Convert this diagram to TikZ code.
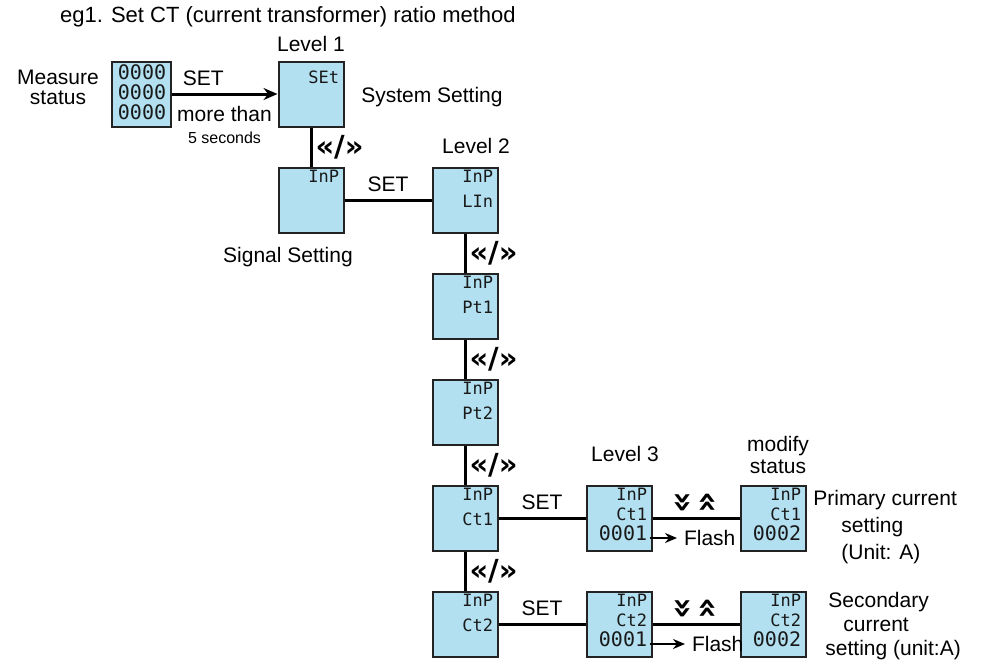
\documentclass[tikz,border=0pt]{standalone}
\usepackage{fontspec}
\setmainfont{Liberation Sans}
\newfontfamily\lcdfont{DejaVu Sans Mono}
\newfontfamily\chevfont{DejaVu Sans}
\usepackage{tikz}
\usetikzlibrary{arrows,arrows.meta}
\usetikzlibrary{positioning}
\definecolor{lcdblue}{RGB}{178,224,240}
\definecolor{lcdframe}{RGB}{35,35,35}
\definecolor{lcdtext}{RGB}{25,25,25}
\tikzstyle{panel} = [draw=lcdframe, fill=lcdblue, line width=1pt, minimum width=32.5pt, minimum height=32.5pt, inner sep=0pt]
\tikzstyle{readout} = [anchor=north east, align=right, inner xsep=2.5pt, inner ysep=1.5pt, text=lcdtext, font=\lcdfont\fontsize{8.5}{12.5}\selectfont]
\tikzstyle{readout3} = [readout, font=\lcdfont\fontsize{8.5}{10}\selectfont]
\tikzstyle{chevrons} = [font=\chevfont\bfseries\fontsize{14.5}{14.5}\selectfont, inner sep=1.5pt]
\tikzstyle{updown} = [font=\chevfont\bfseries\fontsize{17}{17}\selectfont, inner sep=1.5pt]
\tikzstyle{link} = [-, draw=black, line width=1.5pt]
\tikzstyle{arrow_set} = [-{Stealth[length=7pt,width=6pt]}, draw=black, line width=1.5pt]
\tikzstyle{arrow_flash} = [-{Stealth[length=6pt,width=5pt]}, draw=black, line width=1.2pt]

\begin{document}
\begin{tikzpicture}[x=0.5pt, y=-0.5pt, node distance=53pt, font=\fontsize{10.5}{12.5}\selectfont]
  \useasboundingbox (0,0) rectangle (989,664);
  \node[anchor=west, font=\fontsize{11}{13}\selectfont] (title) at (53,17) {eg1. Set CT (current transformer) ratio method};

  % Level 1
  \node[panel, minimum width=29.5pt, label={[readout, inner ysep=2pt, font=\lcdfont\fontsize{10}{10}\selectfont]north east:{0000\\0000\\0000}}] (measure) at (141,94) {};
  \node[align=center, font=\fontsize{10.5}{10}\selectfont] (measure_txt) at (58,87) {Measure\\status};
  \node[panel, label={[readout, inner ysep=5pt]north east:SEt}] (sys) at (311,94) {};
  \node (lv1) at (311,44) {Level 1};
  \node (sys_txt) at (432,97) {System Setting};
  \path[arrow_set] (measure) -- node[above, pos=0.3] {SET}
    node[below=2pt, align=center, font=\fontsize{10.5}{11}\selectfont] {more than\\{\fontsize{8}{11}\selectfont 5 seconds}} (sys);

  % Level 2
  \node[panel, label={[readout]north east:InP}] (inp) [below of=sys] {};
  \node (inp_txt) at (288,257) {Signal Setting};
  \path[link] (sys) -- node[chevrons, right] {«/»} (inp);

  \node[panel, label={[readout]north east:{InP\\LIn}}] (lin) [right of=inp, node distance=77pt] {};
  \node[panel, label={[readout]north east:{InP\\Pt1}}] (pt1) [below of=lin] {};
  \node[panel, label={[readout]north east:{InP\\Pt2}}] (pt2) [below of=pt1] {};
  \node[panel, label={[readout]north east:{InP\\Ct1}}] (ct1) [below of=pt2] {};
  \node[panel, label={[readout]north east:{InP\\Ct2}}] (ct2) [below of=ct1] {};
  \node (lv2) at (476,146) {Level 2};

  \path[link] (inp) -- node[above] {SET} (lin);
  \path[link] (lin) -- node[chevrons, right] {«/»} (pt1);
  \path[link] (pt1) -- node[chevrons, right] {«/»} (pt2);
  \path[link] (pt2) -- node[chevrons, right] {«/»} (ct1);
  \path[link] (ct1) -- node[chevrons, right] {«/»} (ct2);

  % Level 3
  \node[panel, label={[readout3]north east:{InP\\Ct1\\{\fontsize{10}{10}\selectfont 0001}}}] (ct1_set) [right of=ct1, node distance=77pt] {};
  \node[panel, label={[readout3]north east:{InP\\Ct2\\{\fontsize{10}{10}\selectfont 0001}}}] (ct2_set) [right of=ct2, node distance=77pt] {};
  \node (lv3) at (625,454) {Level 3};
  \path[link] (ct1) -- node[above] {SET} (ct1_set);
  \path[link] (ct2) -- node[above] {SET} (ct2_set);

  % modify status
  \node[panel, label={[readout3]north east:{InP\\Ct1\\{\fontsize{10}{10}\selectfont 0002}}}] (ct1_mod) [right of=ct1_set, node distance=77pt] {};
  \node[panel, label={[readout3]north east:{InP\\Ct2\\{\fontsize{10}{10}\selectfont 0002}}}] (ct2_mod) [right of=ct2_set, node distance=77pt] {};
  \node[align=center, font=\fontsize{10.5}{11}\selectfont] (mod_txt) at (778,455) {modify\\status};
  \path[link] (ct1_set) -- node[updown, above] {\rotatebox{90}{«}\hspace{4pt}\rotatebox{90}{»}} (ct1_mod);
  \path[link] (ct2_set) -- node[updown, above] {\rotatebox{90}{«}\hspace{4pt}\rotatebox{90}{»}} (ct2_mod);

  % Flash
  \node[anchor=west] (flash1) at (677,538) {Flash};
  \node[anchor=west] (flash2) at (685,644) {Flash};
  \path[arrow_flash] (ct1_set.east |- flash1) ++(-3,0) -- (flash1);
  \path[arrow_flash] (ct2_set.east |- flash2) ++(-3,0) -- (flash2);

  % notes
  \node[anchor=north west, align=left, inner sep=0pt, font=\fontsize{10.5}{13.5}\selectfont] (ct1_txt) at (813,490) {Primary current\\\hspace*{14pt}setting\\\hspace*{14pt}(Unit: A)};
  \node[anchor=north west, align=left, inner sep=0pt, font=\fontsize{10.5}{12}\selectfont] (ct2_txt) at (825,592) {\hspace*{1.5pt}Secondary\\\hspace*{9pt}current\\setting (unit:A)};
\end{tikzpicture}
\end{document}
